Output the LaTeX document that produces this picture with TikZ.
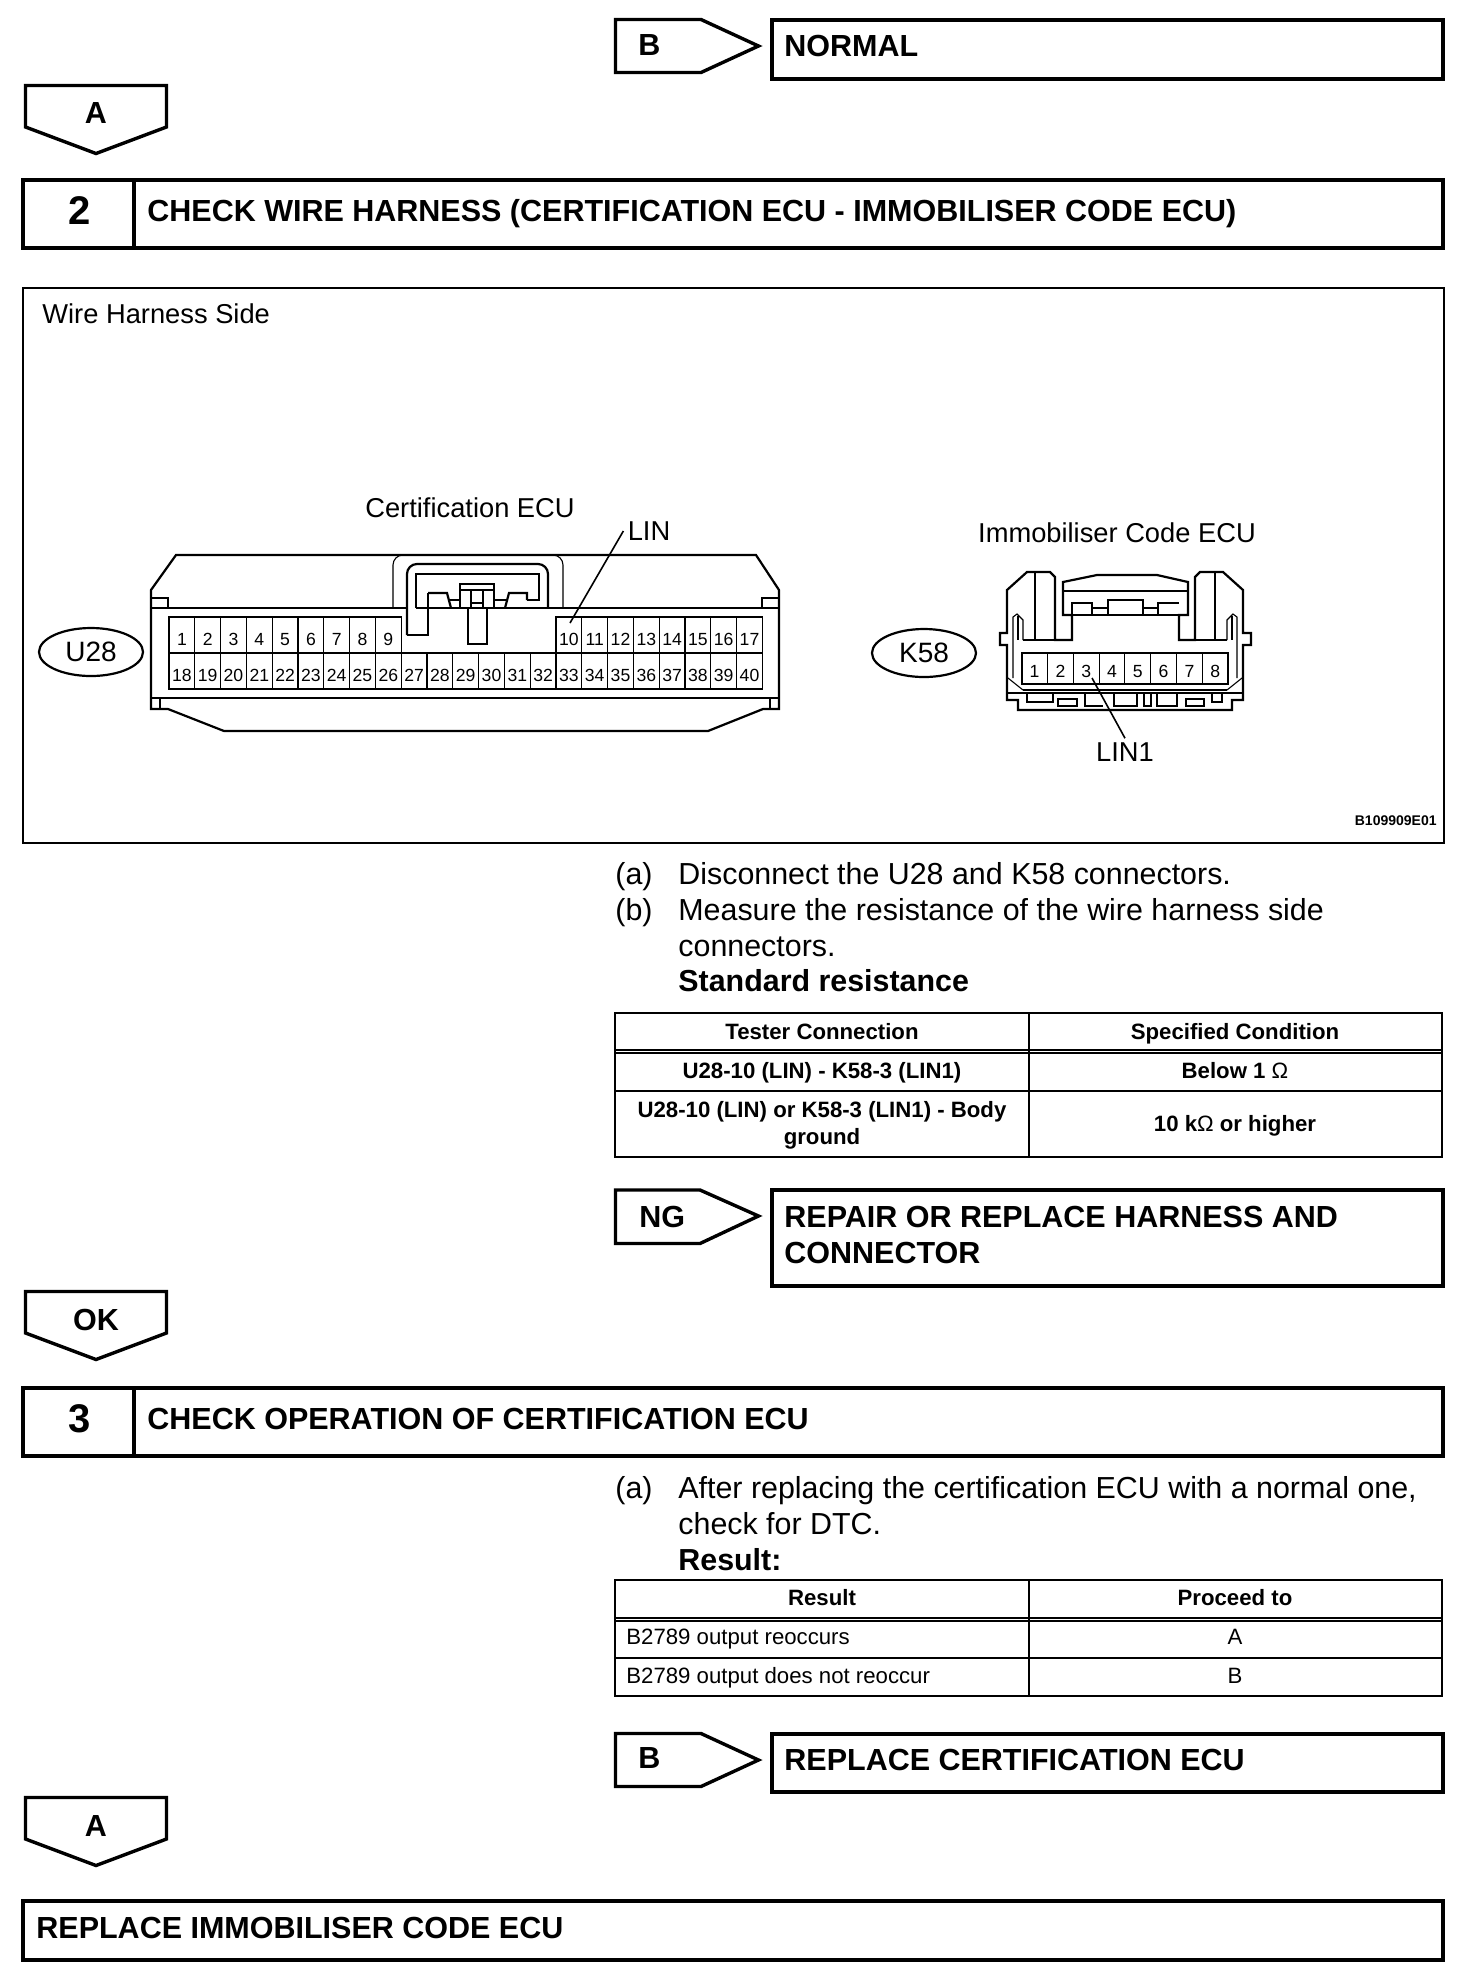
\documentclass[tikz,border=0pt]{standalone}
\usepackage{fontspec}
\setmainfont{Liberation Sans}
\usetikzlibrary{shapes.geometric}
\tikzset{
  heavy/.style={line width=1.7pt},
  medium/.style={line width=1.1pt},
  hair/.style={line width=0.55pt},
  headtxt/.style={font=\fontsize{15.25}{18}\selectfont\bfseries, inner sep=0pt, anchor=west, text height=13pt, text depth=3pt},
  numtxt/.style={font=\fontsize{20}{20}\selectfont\bfseries, inner sep=0pt, text height=14.3pt, text depth=0pt},
  bodytxt/.style={font=\fontsize{15.2}{18}\selectfont, inner sep=0pt, anchor=west, text height=13pt, text depth=3pt},
  boldtxt/.style={bodytxt, font=\fontsize{15.2}{18}\selectfont\bfseries},
  tabhead/.style={font=\fontsize{11.1}{13.5}\selectfont\bfseries, inner sep=0pt, text height=9pt, text depth=2pt},
  tabcell/.style={tabhead, font=\fontsize{11.1}{13.5}\selectfont},
  lbl/.style={font=\fontsize{13.65}{15}\selectfont, inner sep=2pt},
  pinbox/.style={draw, hair, minimum width=12.9pt, minimum height=18pt, inner sep=0pt, font=\fontsize{8.8}{9}\selectfont, text height=10.4pt, text depth=0pt},
  pinboxb/.style={pinbox, minimum height=15.8pt, text height=8.5pt},
  conn/.style={draw, ellipse, medium, minimum width=52pt, minimum height=24pt, inner sep=0pt, font=\fontsize{14}{14}\selectfont}
}
\begin{document}
\begin{tikzpicture}[x=0.5pt, y=-0.5pt]
\useasboundingbox (0,0) rectangle (1472,1972);
\draw[heavy] (615.5,19.5) -- (701,19.5) -- (758.5,46) -- (701,72.5) -- (615.5,72.5) -- cycle;
\node[headtxt] (tagb) at (638,45) {B};
\draw[heavy] (772,20) rectangle (1443,79);
\node[headtxt] (normal) at (784,46) {NORMAL};
\draw[heavy] (25.5,85.5) -- (166.5,85.5) -- (166.5,127) -- (96,153.5) -- (25.5,127) -- cycle;
\node[headtxt, anchor=center] (taga) at (96,113) {A};
\draw[heavy] (23,180) rectangle (1443,248);
\draw[heavy] (134,180) -- (134,248);
\node[numtxt] (num2) at (80,210) {2};
\node[headtxt] (head2) at (147,211) {CHECK WIRE HARNESS (CERTIFICATION ECU - IMMOBILISER CODE ECU)};
\draw[medium] (23,288) rectangle (1444,843);
\node[lbl, anchor=west, inner sep=0pt] (side) at (42,314) {Wire Harness Side};
\node[lbl] (certlab) at (470,508) {Certification ECU};
\node[lbl] (linlab) at (649,531) {LIN};
\node[lbl] (immolab) at (1117,533) {Immobiliser Code ECU};
\node[lbl] (lin1lab) at (1125,752) {LIN1};
\node[inner sep=0pt, anchor=east, font=\fontsize{7}{7}\selectfont\bfseries] (figno) at (1437,821) {B109909E01};
\node[conn] (u28) at (91,652) {U28};
\node[conn] (k58) at (924,653) {K58};
\draw[medium] (176,555) -- (756,555) -- (779,590) -- (779,709) -- (763,709) -- (708,731) -- (224,731) -- (168,709) -- (151,709) -- (151,590) -- cycle;
\draw[hair] (151,608) -- (407,608);
\draw[hair] (552,608) -- (779,608);
\draw[hair] (151,598) -- (168,598) -- (168,608);
\draw[hair] (779,598) -- (762,598) -- (762,608);
\draw[medium] (151,698) -- (779,698);
\draw[hair] (160,698) -- (160,709);
\draw[hair] (770,698) -- (770,709);
\draw[hair, rounded corners=5pt] (393,608) -- (393,555) -- (563,555) -- (563,608);
\draw[medium, rounded corners=5pt] (407,635) -- (407,564) -- (548,564) -- (548,608);
\draw[medium] (416,608) -- (552,608);
\draw[medium] (416,608) -- (416,574) -- (539,574) -- (539,600) -- (527,600);
\draw[medium] (428,593) -- (428,635) -- (406.5,635);
\draw[medium] (428,593) -- (447,593) -- (451,608);
\draw[medium] (527,600) -- (527,593) -- (509,593) -- (505,608);
\draw[hair] (448,600) -- (460,600);
\draw[hair] (494,600) -- (507,600);
\draw[hair] (460,590) -- (460,584) -- (494,584) -- (494,590);
\draw[hair] (460,590) -- (494,590);
\draw[medium] (460,590) -- (460,608);
\draw[medium] (471,590) -- (471,608);
\draw[medium] (483,590) -- (483,608);
\draw[medium] (494,590) -- (494,608);
\draw[medium] (471,603) -- (483,603);
\draw[hair] (468,608) -- (468,644) -- (487,644) -- (487,608);
\node[pinbox] (p1) at (181.9,635) {1};
\node[pinbox] (p2) at (207.7,635) {2};
\node[pinbox] (p3) at (233.5,635) {3};
\node[pinbox] (p4) at (259.3,635) {4};
\node[pinbox] (p5) at (285.1,635) {5};
\node[pinbox] (p6) at (310.9,635) {6};
\node[pinbox] (p7) at (336.7,635) {7};
\node[pinbox] (p8) at (362.5,635) {8};
\node[pinbox] (p9) at (388.3,635) {9};
\node[pinbox] (p10) at (568.9,635) {10};
\node[pinbox] (p11) at (594.7,635) {11};
\node[pinbox] (p12) at (620.5,635) {12};
\node[pinbox] (p13) at (646.3,635) {13};
\node[pinbox] (p14) at (672.1,635) {14};
\node[pinbox] (p15) at (697.9,635) {15};
\node[pinbox] (p16) at (723.7,635) {16};
\node[pinbox] (p17) at (749.5,635) {17};
\node[pinbox] (p18) at (181.9,671) {18};
\node[pinbox] (p19) at (207.7,671) {19};
\node[pinbox] (p20) at (233.5,671) {20};
\node[pinbox] (p21) at (259.3,671) {21};
\node[pinbox] (p22) at (285.1,671) {22};
\node[pinbox] (p23) at (310.9,671) {23};
\node[pinbox] (p24) at (336.7,671) {24};
\node[pinbox] (p25) at (362.5,671) {25};
\node[pinbox] (p26) at (388.3,671) {26};
\node[pinbox] (p27) at (414.1,671) {27};
\node[pinbox] (p28) at (439.9,671) {28};
\node[pinbox] (p29) at (465.7,671) {29};
\node[pinbox] (p30) at (491.5,671) {30};
\node[pinbox] (p31) at (517.3,671) {31};
\node[pinbox] (p32) at (543.1,671) {32};
\node[pinbox] (p33) at (568.9,671) {33};
\node[pinbox] (p34) at (594.7,671) {34};
\node[pinbox] (p35) at (620.5,671) {35};
\node[pinbox] (p36) at (646.3,671) {36};
\node[pinbox] (p37) at (672.1,671) {37};
\node[pinbox] (p38) at (697.9,671) {38};
\node[pinbox] (p39) at (723.7,671) {39};
\node[pinbox] (p40) at (749.5,671) {40};
\draw[medium] (169,617) -- (401,617);
\draw[medium] (556,617) -- (762,617);
\draw[medium] (169,653) -- (762,653);
\coordinate (lintip) at (570,623);
\draw[line width=0.8pt] (linlab.west) -- (lintip);
\draw[medium] (1007,700) -- (1007,645) -- (1000,645) -- (1000,633) -- (1007,633) -- (1007,590) -- (1027,572) -- (1050,572) -- (1055,577) -- (1055,640) -- (1072,640) -- (1072,615) -- (1063,615) -- (1063,582) -- (1097,575) -- (1157,575) -- (1188,582) -- (1188,615) -- (1179,615) -- (1179,640) -- (1195,640) -- (1195,577) -- (1200,572) -- (1223,572) -- (1243,590) -- (1243,633) -- (1251,633) -- (1251,645) -- (1243,645) -- (1243,700) -- (1232,700) -- (1232,710) -- (1018,710) -- (1018,700) -- cycle;
\draw[medium] (1063,591) -- (1188,591);
\draw[medium] (1072,615) -- (1179,615);
\draw[medium] (1072,615) -- (1072,603) -- (1092,603) -- (1092,615);
\draw[medium] (1108,615) -- (1108,600) -- (1143,600) -- (1143,615);
\draw[medium] (1158,615) -- (1158,603) -- (1179,603);
\draw[hair] (1092,608) -- (1108,608);
\draw[hair] (1143,608) -- (1158,608);
\draw[hair] (1035,572) -- (1035,640);
\draw[hair] (1215,572) -- (1215,640);
\draw[hair] (1023,640) -- (1055,640);
\draw[hair] (1195,640) -- (1227,640);
\draw[hair] (1013,678) -- (1013,617) -- (1017,614) -- (1023,620) -- (1023,640);
\draw[hair] (1018,616) -- (1018,640);
\draw[hair] (1237,678) -- (1237,617) -- (1233,614) -- (1227,620) -- (1227,640);
\draw[hair] (1232,616) -- (1232,640);
\draw[hair] (1008,678) -- (1023,690);
\draw[hair] (1242,678) -- (1227,690);
\draw[hair] (1023,690) -- (1227,690);
\draw[medium] (1007,693) -- (1243,693);
\draw[hair] (1027,693) -- (1027,702) -- (1053,702) -- (1053,693);
\draw[medium] (1058,699) rectangle (1077,706);
\draw[medium] (1085,693) -- (1085,706) -- (1103,706);
\draw[hair] (1114,693) -- (1114,706) -- (1137,706) -- (1137,693);
\draw[hair] (1144,693) -- (1144,706) -- (1151,706) -- (1151,693);
\draw[hair] (1157,693) -- (1157,706) -- (1177,706) -- (1177,693);
\draw[medium] (1186,699) rectangle (1204,706);
\draw[hair] (1212,693) -- (1212,702) -- (1222,702) -- (1222,693);
\node[pinboxb] (q1) at (1034.6,668.5) {1};
\node[pinboxb] (q2) at (1060.4,668.5) {2};
\node[pinboxb] (q3) at (1086.2,668.5) {3};
\node[pinboxb] (q4) at (1112,668.5) {4};
\node[pinboxb] (q5) at (1137.8,668.5) {5};
\node[pinboxb] (q6) at (1163.6,668.5) {6};
\node[pinboxb] (q7) at (1189.4,668.5) {7};
\node[pinboxb] (q8) at (1215.2,668.5) {8};
\draw[medium] (1022,653) rectangle (1228,684);
\coordinate (lin1tip) at (1092,678);
\draw[line width=0.8pt] (lin1lab.north) -- (lin1tip);
\node[bodytxt] (a1) at (615,874) {(a)};
\node[bodytxt] (a1t) at (678,874) {Disconnect the U28 and K58 connectors.};
\node[bodytxt] (b1) at (615,910) {(b)};
\node[bodytxt] (b1t) at (678,910) {Measure the resistance of the wire harness side};
\node[bodytxt] (b2t) at (678,946) {connectors.};
\node[boldtxt] (std) at (678,981) {Standard resistance};
\draw[medium] (615,1013) rectangle (1442,1157);
\draw[hair] (1029,1013) -- (1029,1157);
\draw[hair] (615,1050) -- (1442,1050);
\draw[hair] (615,1053) -- (1442,1053);
\draw[hair] (615,1091) -- (1442,1091);
\node[tabhead] (t1a) at (822,1032) {Tester Connection};
\node[tabhead] (t1b) at (1235,1032) {Specified Condition};
\node[tabhead] (t1c) at (822,1071) {U28-10 (LIN) - K58-3 (LIN1)};
\node[tabhead] (t1d) at (1235,1071) {Below 1 {\mdseries Ω}};
\node[tabhead] (t1e) at (822,1110) {U28-10 (LIN) or K58-3 (LIN1) - Body};
\node[tabhead] (t1g) at (822,1137) {ground};
\node[tabhead] (t1f) at (1235,1124) {10 k{\mdseries Ω} or higher};
\draw[heavy] (615.5,1190) -- (700,1190) -- (758.5,1216) -- (700,1243.5) -- (615.5,1243.5) -- cycle;
\node[headtxt] (tagng) at (639,1217) {NG};
\draw[heavy] (772,1190) rectangle (1443,1286);
\node[headtxt] (repair) at (784,1217) {REPAIR OR REPLACE HARNESS AND};
\node[headtxt] (repair2) at (784,1253) {CONNECTOR};
\draw[heavy] (25.5,1291.5) -- (166.5,1291.5) -- (166.5,1333) -- (96,1359.5) -- (25.5,1333) -- cycle;
\node[headtxt, anchor=center] (tagok) at (96,1320) {OK};
\draw[heavy] (23,1388) rectangle (1443,1456);
\draw[heavy] (134,1388) -- (134,1456);
\node[numtxt] (num3) at (80,1418) {3};
\node[headtxt] (head3) at (147,1419) {CHECK OPERATION OF CERTIFICATION ECU};
\node[bodytxt] (c1) at (615,1488) {(a)};
\node[bodytxt] (c1t) at (678,1488) {After replacing the certification ECU with a normal one,};
\node[bodytxt] (c2t) at (678,1524) {check for DTC.};
\node[boldtxt] (res) at (678,1560) {Result:};
\draw[medium] (615,1580) rectangle (1442,1696);
\draw[hair] (1029,1580) -- (1029,1696);
\draw[hair] (615,1618) -- (1442,1618);
\draw[hair] (615,1621) -- (1442,1621);
\draw[hair] (615,1658) -- (1442,1658);
\node[tabhead] (t2a) at (822,1598) {Result};
\node[tabhead] (t2b) at (1235,1598) {Proceed to};
\node[tabcell, anchor=west] (t2c) at (626,1637) {B2789 output reoccurs};
\node[tabcell] (t2d) at (1235,1637) {A};
\node[tabcell, anchor=west] (t2e) at (626,1676) {B2789 output does not reoccur};
\node[tabcell] (t2f) at (1235,1676) {B};
\draw[heavy] (615.5,1733.5) -- (701,1733.5) -- (758.5,1760) -- (701,1786.5) -- (615.5,1786.5) -- cycle;
\node[headtxt] (tagb2) at (638,1758) {B};
\draw[heavy] (772,1734) rectangle (1443,1792);
\node[headtxt] (replcert) at (784,1760) {REPLACE CERTIFICATION ECU};
\draw[heavy] (25.5,1797.5) -- (166.5,1797.5) -- (166.5,1839) -- (96,1865.5) -- (25.5,1839) -- cycle;
\node[headtxt, anchor=center] (taga2) at (96,1826) {A};
\draw[heavy] (23,1901) rectangle (1443,1960);
\node[headtxt] (replimmo) at (36,1928) {REPLACE IMMOBILISER CODE ECU};
\end{tikzpicture}
\end{document}
